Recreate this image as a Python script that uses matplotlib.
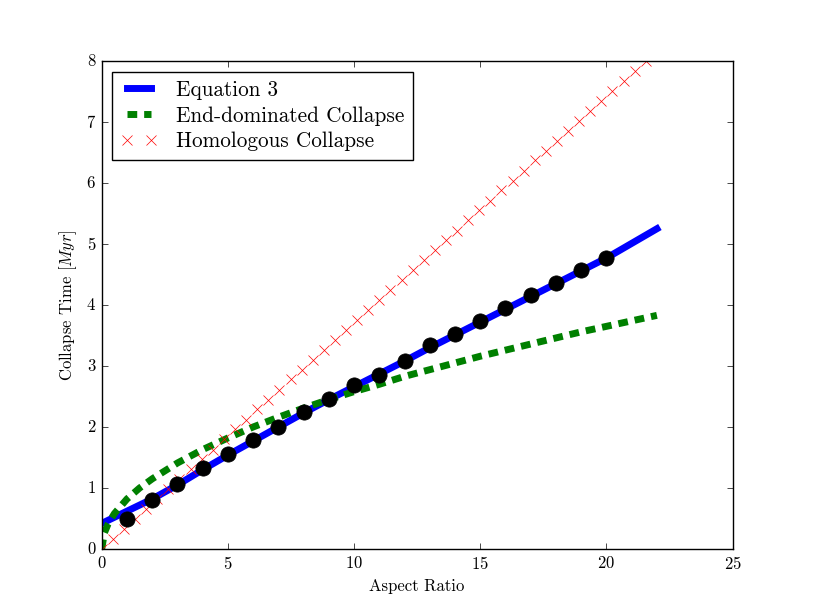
import numpy as np
import matplotlib
matplotlib.use("Agg")
import matplotlib.pyplot as plt

plt.style.use('classic')
plt.rcParams['font.family'] = ['cmr10', 'DejaVu Serif']
plt.rcParams['mathtext.fontset'] = 'cm'
plt.rcParams['axes.formatter.use_mathtext'] = True

# Equation 3 (line)
eq3_x = [0, 1, 2, 3, 4, 5, 6, 7, 8, 9, 10, 11, 12, 13, 14, 15, 16, 17, 18, 19, 20, 21, 22]
eq3_y = [0.42, 0.62, 0.82, 1.05, 1.30, 1.54, 1.77, 2.00, 2.23, 2.45, 2.66, 2.87, 3.08,
         3.30, 3.51, 3.72, 3.93, 4.14, 4.35, 4.56, 4.77, 5.01, 5.25]

# Simulation points (black dots)
dots_x = [1, 2, 3, 4, 5, 6, 7, 8, 9, 10, 11, 12, 13, 14, 15, 16, 17, 18, 19, 20]
dots_y = [0.49, 0.81, 1.07, 1.32, 1.56, 1.79, 2.00, 2.24, 2.46, 2.69, 2.86, 3.08,
          3.34, 3.53, 3.74, 3.95, 4.16, 4.36, 4.57, 4.77]

# End-dominated collapse
end_x = [0, 0.1, 0.25, 0.5, 1, 1.5, 2, 3, 4, 5, 6, 7, 8, 9, 10, 11, 12, 13, 14, 15,
         16, 17, 18, 19, 20, 21, 22]
end_y = [0.0, 0.26, 0.41, 0.58, 0.82, 1.00, 1.15, 1.41, 1.63, 1.82, 2.00, 2.16, 2.31,
         2.45, 2.58, 2.70, 2.83, 2.94, 3.05, 3.16, 3.26, 3.36, 3.46, 3.56, 3.65, 3.74, 3.83]

# Homologous collapse
hom_x = [0.00, 0.44, 0.88, 1.32, 1.76, 2.20, 2.64, 3.08, 3.52, 3.96, 4.40, 4.84, 5.28,
         5.72, 6.16, 6.60, 7.04, 7.48, 7.92, 8.36, 8.80, 9.24, 9.68, 10.12, 10.56, 11.00,
         11.44, 11.88, 12.32, 12.76, 13.20, 13.64, 14.08, 14.52, 14.96, 15.40, 15.84,
         16.28, 16.72, 17.16, 17.60, 18.04, 18.48, 18.92, 19.36, 19.80, 20.24, 20.68,
         21.12, 21.56, 22.00]
hom_y = [0.00, 0.16, 0.33, 0.49, 0.65, 0.82, 0.98, 1.14, 1.31, 1.47, 1.63, 1.80, 1.96,
         2.12, 2.29, 2.45, 2.61, 2.78, 2.94, 3.10, 3.27, 3.43, 3.59, 3.75, 3.92, 4.08,
         4.24, 4.41, 4.57, 4.73, 4.90, 5.06, 5.22, 5.39, 5.55, 5.71, 5.88, 6.04, 6.20,
         6.37, 6.53, 6.69, 6.86, 7.02, 7.18, 7.35, 7.51, 7.67, 7.84, 8.00, 8.16]

fig = plt.figure(figsize=(8.14, 6.10), dpi=100)
fig.patch.set_facecolor('white')
ax = fig.add_axes([0.125, 0.1, 0.775, 0.8])

ax.plot(eq3_x, eq3_y, color='b', lw=5, label='Equation 3')
ax.plot(end_x, end_y, color='g', lw=5, ls='--', dashes=(7, 5), label='End-dominated Collapse')
ax.plot(hom_x, hom_y, 'rx', ms=7, mew=0.5, label='Homologous Collapse')
ax.plot(dots_x, dots_y, 'ko', ms=11, zorder=5)

ax.set_xlim(0, 25)
ax.set_ylim(0, 8)
ax.set_xticks([0, 5, 10, 15, 20, 25])
ax.set_yticks([0, 1, 2, 3, 4, 5, 6, 7, 8])
ax.tick_params(labelsize=12)
ax.set_xlabel('Aspect Ratio', fontsize=12)
ax.set_ylabel(r'Collapse Time $[Myr]$', fontsize=12)

leg = ax.legend(loc='upper left', fontsize=15.3, numpoints=2, handlelength=1.7,
                labelspacing=0.3, handletextpad=0.9)
leg.get_frame().set_edgecolor('black')

fig.savefig('out.png', dpi=100, facecolor='white')
